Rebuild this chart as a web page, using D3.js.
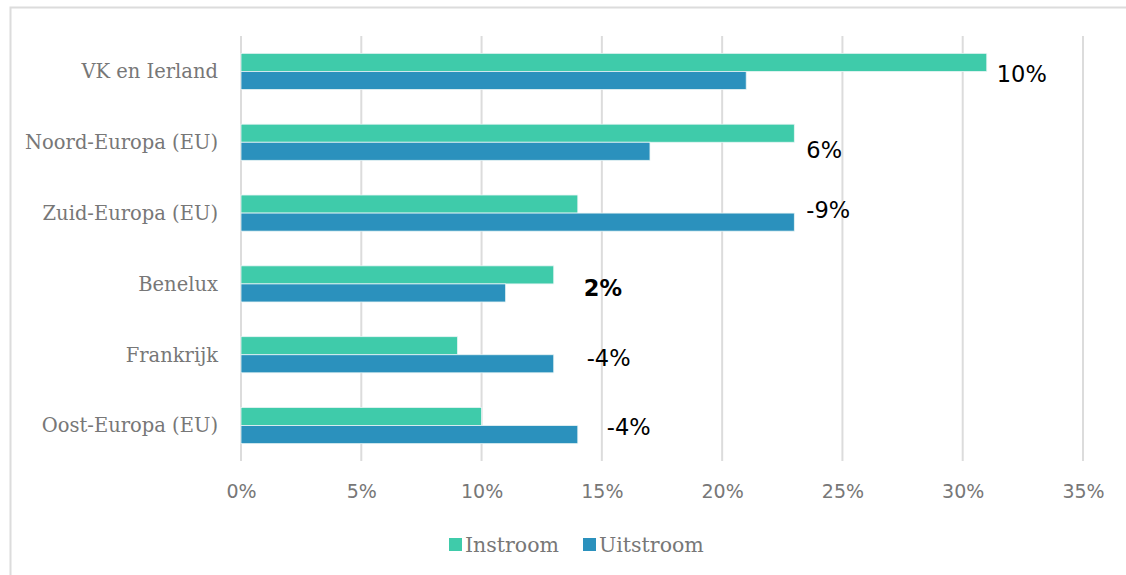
<!DOCTYPE html>
<html><head><meta charset="utf-8">
<script src="https://cdn.jsdelivr.net/npm/d3@7"></script>
<style>
body{margin:0;background:#fff;}
svg{display:block;}
.cat, .leg{font-family:"DejaVu Serif";fill:#777;}
.xt text{font-family:"DejaVu Sans";fill:#777;}
.val{font-family:"DejaVu Sans";fill:#000;}
</style></head>
<body><svg id="c" width="1126" height="575"></svg>
<script>
const categories = ["VK en Ierland","Noord-Europa (EU)","Zuid-Europa (EU)","Benelux","Frankrijk","Oost-Europa (EU)"];
const seriesNames = ["Instroom","Uitstroom"];
const instroom = [31,23,14,13,9,10];
const uitstroom = [21,17,23,11,13,14];
const diffLabels = ["10%","6%","-9%","2%","-4%","-4%"];
const xTicks = [0,5,10,15,20,25,30,35];
const colors = ["#3fcbaa","#2b91bd"];
// label nudges (layout only)
const labelNudge = [[10,3],[12,8],[12,-3],[30,4],[33,3],[29,2]];
const labelBold = [false,false,false,true,false,false];

const svg = d3.select("#c");
svg.append("rect").attr("x",10.5).attr("y",7.5).attr("width",1200).attr("height",700)
  .attr("fill","none").attr("stroke","#dcdcdc").attr("stroke-width",2);

const x = d3.scaleLinear().domain([0,35]).range([241,1083]);
const y = d3.scaleBand().domain(categories).range([36,461]).paddingInner(0.49).paddingOuter(0.245);
const ys = d3.scaleBand().domain(seriesNames).range([0,y.bandwidth()]);

// grid
svg.append("g").selectAll("line").data(xTicks).join("line")
  .attr("x1",d=>x(d)).attr("x2",d=>x(d)).attr("y1",36).attr("y2",461)
  .attr("stroke","#dcdcdc").attr("stroke-width",2);

// x axis labels
const xa = svg.append("g").attr("class","xt").attr("transform","translate(0,461)")
  .call(d3.axisBottom(x).tickValues(xTicks).tickFormat(d=>d+"%").tickSize(0).tickPadding(24));
xa.select(".domain").remove();
xa.selectAll("text").attr("font-size",19).attr("font-family",null).attr("fill",null);

// category labels
svg.append("g").selectAll("text").data(categories).join("text").attr("class","cat")
  .attr("x",218).attr("y",d=>y(d)+y.bandwidth()/2).attr("dy","0.35em")
  .attr("text-anchor","end").attr("font-size",19.5).text(d=>d);

const rows = categories.map((c,i)=>({c, vals:[instroom[i],uitstroom[i]]}));
const g = svg.append("g").selectAll("g").data(rows).join("g")
  .attr("transform",d=>`translate(0,${y(d.c)})`);
g.selectAll("rect").data(d=>d.vals.map((v,j)=>({v,s:seriesNames[j],j}))).join("rect")
  .attr("x",x(0)).attr("y",d=>ys(d.s)).attr("width",d=>x(d.v)-x(0)).attr("height",ys.bandwidth())
  .attr("fill",d=>colors[d.j]).attr("stroke","#e8f4f4").attr("stroke-width",0.8);

// value labels
svg.append("g").selectAll("text").data(rows).join("text").attr("class","val")
  .attr("x",(d,i)=>x(d3.max(d.vals))+labelNudge[i][0])
  .attr("y",(d,i)=>y(d.c)+y.bandwidth()/2+labelNudge[i][1])
  .attr("dy","0.35em").attr("font-size",22.5)
  .attr("font-weight",(d,i)=>labelBold[i]?"bold":"normal")
  .text((d,i)=>diffLabels[i]);

// legend
const lg = svg.append("g");
const legX = [449,583];
seriesNames.forEach((s,i)=>{
  lg.append("rect").attr("x",legX[i]).attr("y",538).attr("width",13).attr("height",13).attr("fill",colors[i]);
  lg.append("text").attr("class","leg").attr("x",legX[i]+16).attr("y",545).attr("dy","0.35em")
    .attr("font-size",20.5).text(s);
});
</script></body></html>
